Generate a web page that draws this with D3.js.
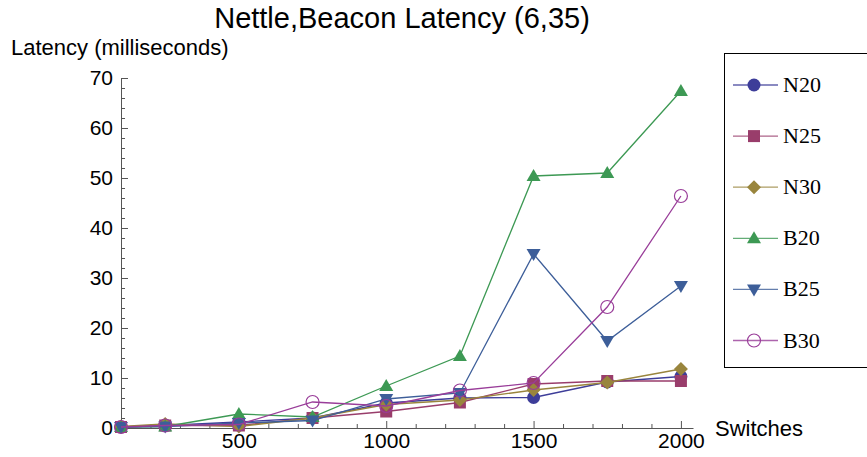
<!DOCTYPE html>
<html>
<head>
<meta charset="utf-8">
<script src="https://cdn.jsdelivr.net/npm/d3@7"></script>
<style>
  body { margin: 0; background: #fff; }
  svg { display: block; font-family: "Liberation Sans", Arial, sans-serif; }
  .axis path, .axis line { stroke: #555; }
  .axis text { font-size: 21px; fill: #000; font-family: "Liberation Sans", Arial, sans-serif; }
</style>
</head>
<body>
<div id="chart"></div>
<script>
// Data
const switches = [100, 250, 500, 750, 1000, 1250, 1500, 1750, 2000];
const seriesNames = ["N20", "N25", "N30", "B20", "B25", "B30"];
const n20 = [0.2, 0.5, 1.2, 2.0, 5.0, 6.0, 6.1, 9.2, 10.3];
const n25 = [0.2, 0.5, 0.5, 2.0, 3.3, 5.1, 8.8, 9.4, 9.4];
const n30 = [0.3, 0.8, 0.3, 2.0, 4.7, 5.6, 7.6, 9.1, 11.8];
const b20 = [0.2, 0.3, 2.8, 2.2, 8.4, 14.4, 50.4, 51.0, 67.4];
const b25 = [0.2, 0.3, 1.0, 1.5, 5.8, 7.0, 34.8, 17.4, 28.4];
const b30 = [0.2, 0.5, 0.7, 5.2, 4.4, 7.5, 9.0, 24.2, 46.4];
const seriesValues = [n20, n25, n30, b20, b25, b30];
const xMajorTicks = [500, 1000, 1500, 2000];
const yMajorTicks = [0, 10, 20, 30, 40, 50, 60, 70];

const width = 867, height = 457;
const colors = ["#3d3d99", "#993d6b", "#99853d", "#3d9954", "#3d5e99", "#993d99"];
const symbols = ["circle", "square", "diamond", "triUp", "triDown", "openCircle"];

const svg = d3.select("#chart")
  .append("svg")
    .attr("width", width)
    .attr("height", height);

// Scales
const xScale = d3.scaleLinear()
  .domain([100, 2041])
  .range([121, 693]);
const yScale = d3.scaleLinear()
  .domain([0, 70])
  .range([428, 78]);

// Axes: minor ticks first, then major ticks with labels
const xMinor = d3.range(200, 2001, 100).filter(v => !xMajorTicks.includes(v));
svg.append("g")
    .attr("class", "axis")
    .attr("transform", `translate(0, ${yScale(0)})`)
    .call(d3.axisBottom(xScale).tickValues(xMinor).tickSize(-4).tickFormat(""))
    .call(g => g.select(".domain").remove());
svg.append("g")
    .attr("class", "axis")
    .attr("transform", `translate(0, ${yScale(0)})`)
    .call(d3.axisBottom(xScale).tickValues(xMajorTicks).tickFormat(d3.format("d"))
      .tickSizeInner(-7).tickSizeOuter(0).tickPadding(5));

const yMinor = d3.range(2, 70, 2).filter(v => v % 10 !== 0);
svg.append("g")
    .attr("class", "axis")
    .attr("transform", `translate(${xScale(100)}, 0)`)
    .call(d3.axisLeft(yScale).tickValues(yMinor).tickSize(-4).tickFormat(""))
    .call(g => g.select(".domain").remove());
svg.append("g")
    .attr("class", "axis")
    .attr("transform", `translate(${xScale(100)}, 0)`)
    .call(d3.axisLeft(yScale).tickValues(yMajorTicks).tickFormat(d3.format("d"))
      .tickSizeInner(-7).tickSizeOuter(0).tickPadding(8));

// Labels
svg.append("text")
    .attr("x", 402)
    .attr("y", 28)
    .attr("text-anchor", "middle")
    .attr("font-size", 29)
    .text("Nettle,Beacon Latency (6,35)");
svg.append("text")
    .attr("x", 11)
    .attr("y", 55)
    .attr("font-size", 22)
    .text("Latency (milliseconds)");
svg.append("text")
    .attr("x", 715)
    .attr("y", 436)
    .attr("font-size", 22)
    .text("Switches");

// Marker drawing
const drawMarker = (g, type, color, cx, cy) => {
  switch (type) {
    case "circle":
      g.append("circle").attr("cx", cx).attr("cy", cy).attr("r", 6.5).attr("fill", color);
      break;
    case "square":
      g.append("rect").attr("x", cx - 6).attr("y", cy - 6).attr("width", 12).attr("height", 12).attr("fill", color);
      break;
    case "diamond":
      g.append("path").attr("d", `M${cx},${cy - 7}L${cx + 7},${cy}L${cx},${cy + 7}L${cx - 7},${cy}Z`).attr("fill", color);
      break;
    case "triUp":
      g.append("path").attr("d", `M${cx},${cy - 7}L${cx + 7},${cy + 5}L${cx - 7},${cy + 5}Z`).attr("fill", color);
      break;
    case "triDown":
      g.append("path").attr("d", `M${cx},${cy + 7}L${cx + 7},${cy - 5}L${cx - 7},${cy - 5}Z`).attr("fill", color);
      break;
    case "openCircle":
      g.append("circle").attr("cx", cx).attr("cy", cy).attr("r", 6.5).attr("fill", "none").attr("stroke", color).attr("stroke-width", 1.2);
      break;
  }
};

// Lines and markers
const line = d3.line()
  .x((d, i) => xScale(switches[i]))
  .y(d => yScale(d));

seriesValues.forEach((vals, s) => {
  const g = svg.append("g").attr("class", `series series-${seriesNames[s]}`);
  g.append("path")
      .attr("d", line(vals))
      .attr("fill", "none")
      .attr("stroke", colors[s])
      .attr("stroke-width", 1.3);
  vals.forEach((v, i) => drawMarker(g, symbols[s], colors[s], xScale(switches[i]), yScale(v)));
});

// Legend
const legend = svg.append("g").attr("class", "legend");
legend.append("rect")
    .attr("x", 724.5)
    .attr("y", 53.5)
    .attr("width", 160)
    .attr("height", 314)
    .attr("fill", "#fff")
    .attr("stroke", "#000");
seriesNames.forEach((name, s) => {
  const y = 85 + s * 51.1;
  legend.append("line")
      .attr("x1", 733).attr("x2", 778)
      .attr("y1", y).attr("y2", y)
      .attr("stroke", colors[s])
      .attr("stroke-opacity", 0.8)
      .attr("stroke-width", 1.3);
  drawMarker(legend, symbols[s], colors[s], 754, y);
  legend.append("text")
      .attr("x", 783)
      .attr("y", y + 7)
      .attr("font-family", "'Liberation Serif', 'Times New Roman', serif")
      .attr("font-size", 22)
      .text(name);
});
</script>
</body>
</html>
